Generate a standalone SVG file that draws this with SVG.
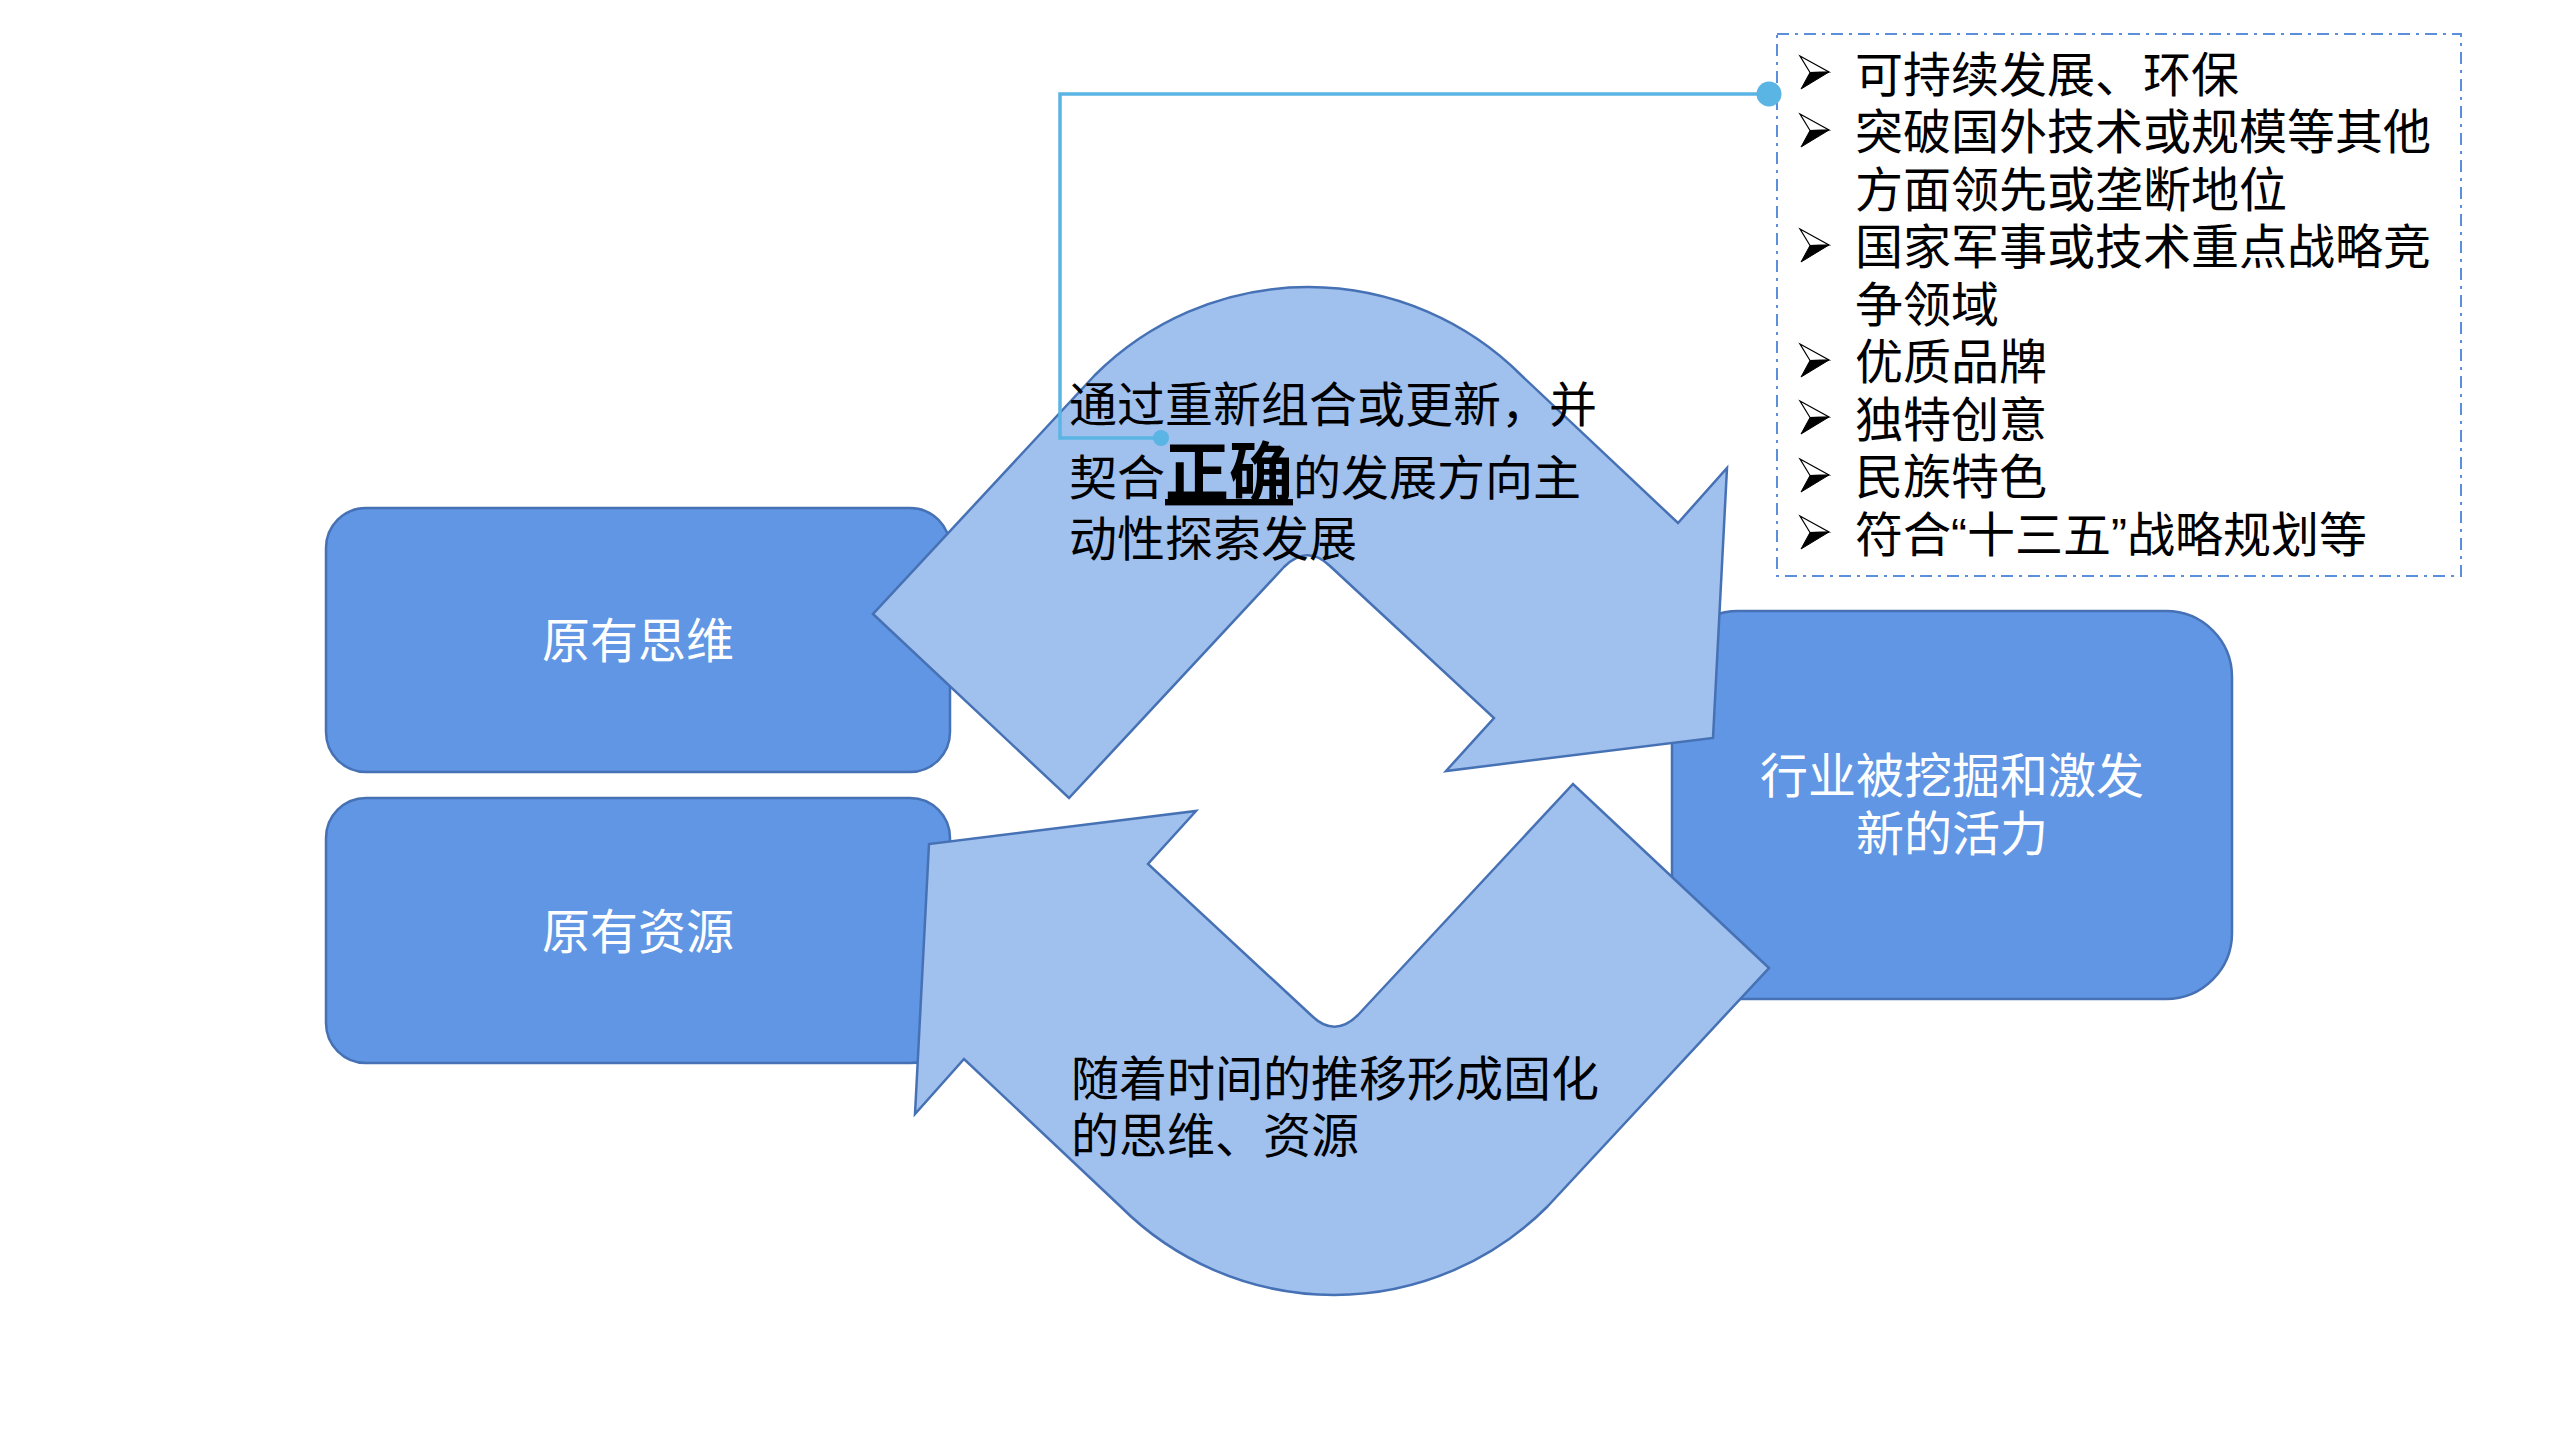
<svg xmlns="http://www.w3.org/2000/svg" xmlns:xlink="http://www.w3.org/1999/xlink" width="2560" height="1440" viewBox="0 0 2560 1440">
  <style>
    .box { fill: #6096E4; stroke: #4671B4; stroke-width: 2.5; }
    .arrow { fill: #A0C0EE; stroke: #4671B4; stroke-width: 2.5; stroke-linejoin: miter; }
    .wt { font-family: "Noto Sans CJK SC", "Noto Sans", sans-serif; font-size: 48px; fill: #FFFFFF; text-anchor: middle; }
    .bt { font-family: "Noto Sans CJK SC", "Noto Sans", sans-serif; font-size: 48px; fill: #000000; }
    .q { font-family: "Liberation Sans", "Noto Sans CJK SC", sans-serif; }
    .list { fill: none; stroke: #5B8EDB; stroke-width: 2; stroke-dasharray: 12 6 3 6; }
    .conn { fill: none; stroke: #5AB4E4; stroke-width: 3.5; }
    .dot { fill: #5AB4E4; }
  </style>
  <defs>
    <g id="bullet">
      <polygon points="0,0 29,16 10,16.5" fill="#FFFFFF" stroke="#000000" stroke-width="1.2" stroke-linejoin="miter"/>
      <polygon points="10,16.5 29,16 1,33" fill="#000000" stroke="#000000" stroke-width="1"/>
    </g>
    <path id="bottomArrowShape" d="M 1769,968 L 1573,784 L 1358,1015 Q 1335,1038 1312,1016 L 1148,864 L 1196,811 L 929,844 L 915,1114 L 964,1059 L 1120.5,1206.5 A 302 302 0 0 0 1547.5,1206.5 Z"/>
  </defs>

  <rect x="0" y="0" width="2560" height="1440" fill="#FFFFFF"/>

  <g id="node-old-thinking">
    <rect class="box" x="326" y="508" width="624" height="264" rx="40" ry="40"/>
    <text class="wt" x="638" y="658">原有思维</text>
  </g>

  <g id="node-old-resources">
    <rect class="box" x="326" y="798" width="624" height="265" rx="40" ry="40"/>
    <text class="wt" x="638" y="949">原有资源</text>
  </g>

  <g id="node-industry">
    <rect class="box" x="1672" y="611" width="560" height="388" rx="66" ry="66"/>
    <text class="wt" x="1952" y="793">行业被挖掘和激发</text>
    <text class="wt" x="1952" y="851">新的活力</text>
  </g>

  <g id="node-top-arrow">
    <use xlink:href="#bottomArrowShape" class="arrow" transform="rotate(180 1321 791)"/>
  </g>

  <g id="node-bottom-arrow">
    <use xlink:href="#bottomArrowShape" class="arrow"/>
  </g>

  <g id="node-list">
    <rect class="list" x="1777" y="34" width="684" height="542"/>
    <use xlink:href="#bullet" x="1800" y="56"/>
    <use xlink:href="#bullet" x="1800" y="114"/>
    <use xlink:href="#bullet" x="1800" y="229"/>
    <use xlink:href="#bullet" x="1800" y="344"/>
    <use xlink:href="#bullet" x="1800" y="401"/>
    <use xlink:href="#bullet" x="1800" y="459"/>
    <use xlink:href="#bullet" x="1800" y="516"/>
    <text class="bt" x="1855" y="91.5">可持续发展、环保</text>
    <text class="bt" x="1855" y="149">突破国外技术或规模等其他</text>
    <text class="bt" x="1855" y="206.5">方面领先或垄断地位</text>
    <text class="bt" x="1855" y="264">国家军事或技术重点战略竞</text>
    <text class="bt" x="1855" y="321.5">争领域</text>
    <text class="bt" x="1855" y="379">优质品牌</text>
    <text class="bt" x="1855" y="436.5">独特创意</text>
    <text class="bt" x="1855" y="494">民族特色</text>
    <text class="bt" x="1855" y="551.5">符合<tspan class="q">“</tspan>十三五<tspan class="q">”</tspan>战略规划等</text>
  </g>

  <g id="connectors">
    <path class="conn" d="M 1769,94 H 1060 V 438 H 1160"/>
    <circle class="dot" cx="1769" cy="94" r="12.5"/>
    <circle class="dot" cx="1161" cy="438" r="8"/>
  </g>

  <g id="label-top-arrow">
    <text class="bt" x="1069" y="422">通过重新组合或更新，并</text>
    <text class="bt" x="1069" y="495">契合<tspan font-size="64" font-weight="bold" text-decoration="underline">正确</tspan>的发展方向主</text>
    <text class="bt" x="1069" y="556">动性探索发展</text>
  </g>

  <g id="label-bottom-arrow">
    <text class="bt" x="1071" y="1096">随着时间的推移形成固化</text>
    <text class="bt" x="1071" y="1153">的思维、资源</text>
  </g>
</svg>
